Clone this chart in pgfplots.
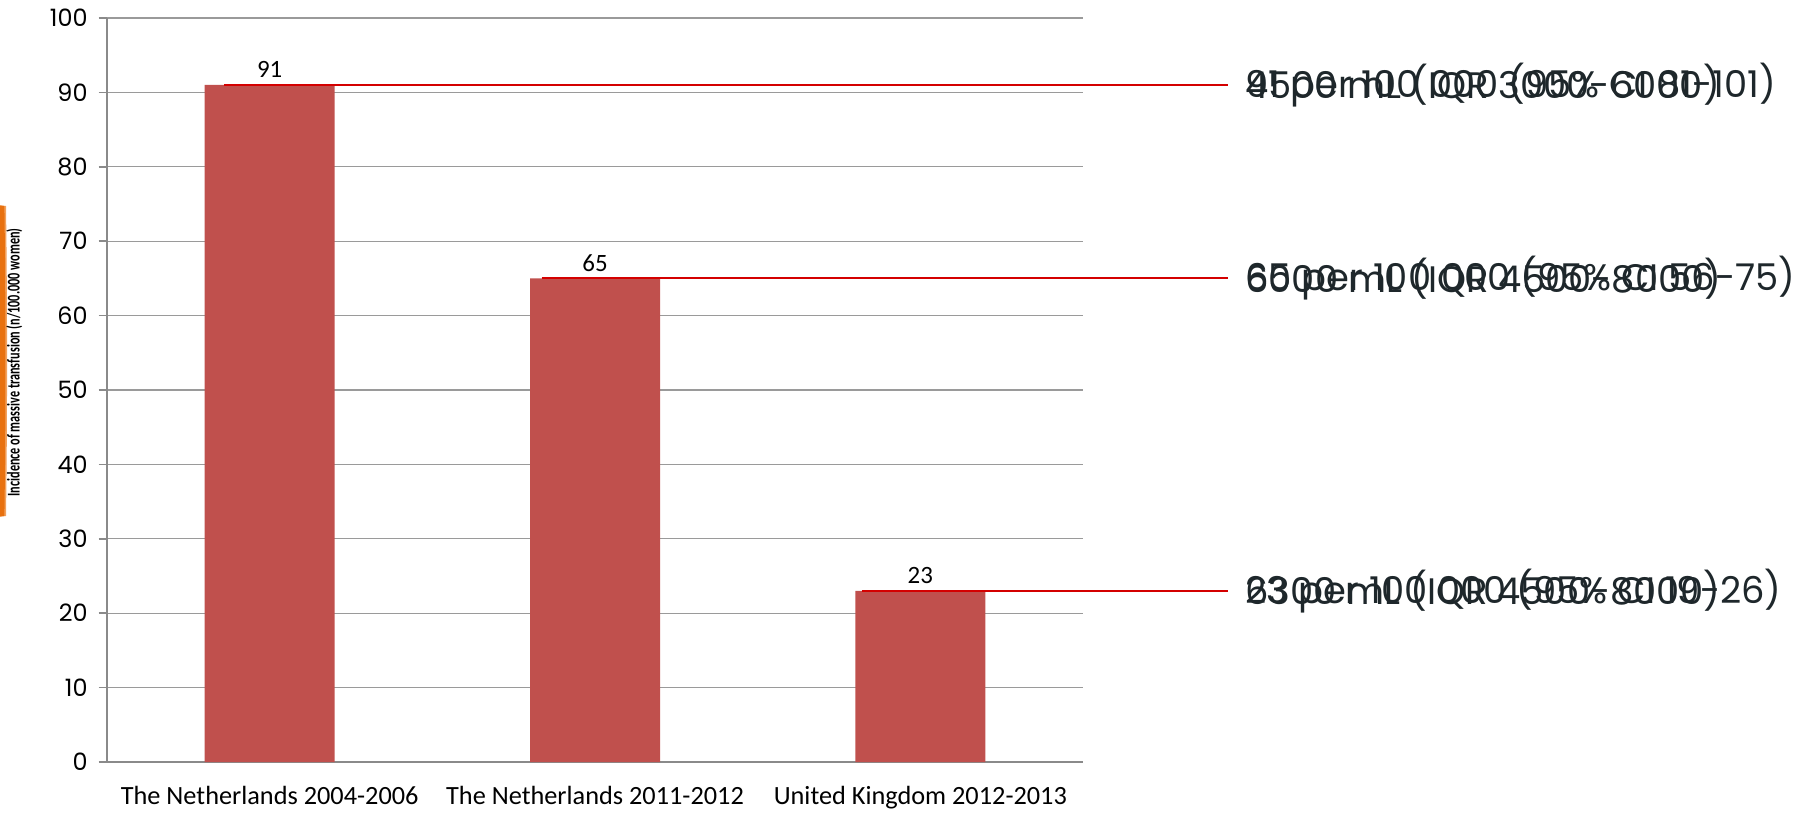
\documentclass[border=0pt]{standalone}
\usepackage{pgfplots}
\pgfplotsset{compat=1.18}
\usepackage{fontspec}
\setmainfont{Carlito}
\newfontfamily\poppins{Poppins}
\definecolor{barred}{HTML}{C0504D}
\definecolor{linered}{HTML}{D40000}
\definecolor{gridgray}{HTML}{9A9A9A}
\definecolor{axisgray}{HTML}{8A8A8A}
\definecolor{txtdark}{HTML}{1E272B}
\definecolor{orangeband}{HTML}{E8710F}
\definecolor{orangelight}{HTML}{F2A25E}
\begin{document}
\begin{tikzpicture}
\useasboundingbox (-53.5bp,-25.5bp) rectangle (850bp,381bp);
\fill[orangelight] (-60bp,279bp) -- (-50.5bp,278bp) .. controls (-49.8bp,230bp) and (-49.8bp,170bp) .. (-50.5bp,123bp) -- (-60bp,122bp) -- cycle;
\fill[orangeband] (-60bp,279bp) -- (-51.3bp,278bp) .. controls (-50.6bp,230bp) and (-50.6bp,170bp) .. (-51.3bp,123bp) -- (-60bp,122bp) -- cycle;
\begin{axis}[
  at={(0,0)}, anchor=south west,
  scale only axis, width=488bp, height=372bp,
  clip=false,
  xmin=-0.5, xmax=2.5, ymin=0, ymax=100,
  axis x line*=bottom, axis y line*=left,
  axis line style={axisgray, line width=0.8pt, -},
  ytick={0,10,...,100},
  ymajorgrids, grid style={gridgray, line width=0.6pt},
  tick align=outside,
  major tick length=4.2bp,
  tick style={axisgray, line width=0.8pt},
  xtick={0,1,2},
  xticklabels={The Netherlands 2004-2006, The Netherlands 2011-2012, United Kingdom 2012-2013},
  x tick style={draw=none},
  extra x ticks={-0.5,0.5,1.5,2.5},
  extra x tick labels={},
  extra x tick style={tick style={axisgray, line width=0.8pt}, major tick length=4.2bp, grid=none},
  xticklabel style={font=\fontsize{13.2}{15}\selectfont, yshift=-4.5bp},
  yticklabel style={font=\poppins\fontsize{12}{14}\selectfont, xshift=-2bp},
  /pgf/number format/assume math mode=true,
  ylabel={\scalebox{0.68}[1]{Incidence of massive transfusion (n/100.000 women)}},
  ylabel style={font=\bfseries\fontsize{9}{11}\selectfont},
  every axis y label/.append style={at={(axis description cs:-0.095,0.537)}, anchor=center, rotate=0},
]
\addplot[ybar, bar width=65bp, fill=barred, draw=none,
  nodes near coords, nodes near coords style={font=\fontsize{12.5}{14}\selectfont, black, anchor=south, yshift=0bp}]
  coordinates {(0,91) (1,65) (2,23)};
\addplot[linered, line width=0.9pt, no markers, sharp plot, forget plot] coordinates {(-0.140,91) (2.945,91)};
\addplot[linered, line width=0.9pt, no markers, sharp plot, forget plot] coordinates {(0.836,65) (2.945,65)};
\addplot[linered, line width=0.9pt, no markers, sharp plot, forget plot] coordinates {(1.820,23) (2.945,23)};
\node[anchor=west, inner sep=0pt, text=txtdark, font=\poppins\fontsize{18.5}{22}\selectfont] at (axis cs:2.998,91) {91 per 100 000 (95\% CI 81-101)};
\node[anchor=west, inner sep=0pt, text=txtdark, font=\poppins\fontsize{18.5}{22}\selectfont] at (axis cs:2.998,91) {4500 mL (IQR 3000-6000)};
\node[anchor=west, inner sep=0pt, text=txtdark, font=\poppins\fontsize{18.5}{22}\selectfont] at (axis cs:2.998,65) {65 per 100 000 (95\% CI 56-75)};
\node[anchor=west, inner sep=0pt, text=txtdark, font=\poppins\fontsize{18.5}{22}\selectfont] at (axis cs:2.998,65) {6000 mL (IQR 4500-8000)};
\node[anchor=west, inner sep=0pt, text=txtdark, font=\poppins\fontsize{18.5}{22}\selectfont] at (axis cs:2.998,23) {23 per 100 000 (95\% CI 19-26)};
\node[anchor=west, inner sep=0pt, text=txtdark, font=\poppins\fontsize{18.5}{22}\selectfont] at (axis cs:2.998,23) {6300 mL (IQR 4500-8000)};
\end{axis}
\end{tikzpicture}
\end{document}
